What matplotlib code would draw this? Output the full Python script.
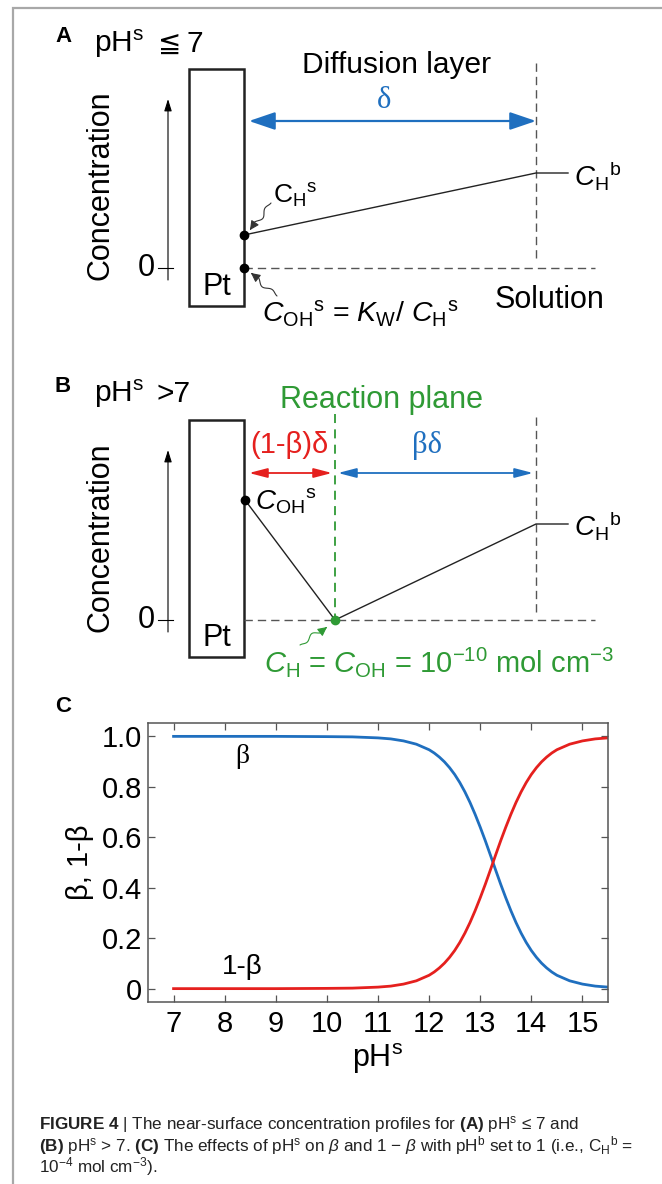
import numpy as np
import matplotlib
matplotlib.use("Agg")
import matplotlib.pyplot as plt
from matplotlib.patches import Rectangle, FancyArrowPatch
from matplotlib.path import Path

plt.rcParams['font.family'] = ['Liberation Sans', 'DejaVu Sans']
plt.rcParams['mathtext.fontset'] = 'custom'
plt.rcParams['mathtext.rm'] = 'Liberation Sans'
plt.rcParams['mathtext.it'] = 'Liberation Sans:italic'
plt.rcParams['mathtext.bf'] = 'Liberation Sans:bold'

BLUE = '#1f6fbf'
RED = '#e5201e'
GREEN = '#2f9a35'
GRAY = '#555555'

# beta and 1-beta versus surface pH (pH_b = 1)
ph_s = [7, 8, 9, 10, 10.5, 11, 11.25, 11.5, 11.75,
        12.0, 12.1, 12.2, 12.3, 12.4, 12.5, 12.6, 12.7, 12.8, 12.9,
        13.0, 13.1, 13.2, 13.3, 13.4, 13.5, 13.6, 13.7, 13.8, 13.9,
        14.0, 14.1, 14.2, 14.3, 14.4, 14.5, 14.75, 15.0, 15.25, 15.5]
one_minus_beta = [0.0, 0.0, 0.0, 0.001, 0.002, 0.006, 0.010, 0.018, 0.031,
                  0.053, 0.066, 0.082, 0.101, 0.124, 0.151, 0.183, 0.220, 0.262, 0.309,
                  0.360, 0.414, 0.471, 0.529, 0.586, 0.640, 0.691, 0.738, 0.780, 0.817,
                  0.849, 0.876, 0.899, 0.918, 0.934, 0.947, 0.969, 0.982, 0.990, 0.994]
beta = [1.0, 1.0, 1.0, 0.999, 0.998, 0.994, 0.990, 0.982, 0.969,
        0.947, 0.934, 0.918, 0.899, 0.876, 0.849, 0.817, 0.780, 0.738, 0.691,
        0.640, 0.586, 0.529, 0.471, 0.414, 0.360, 0.309, 0.262, 0.220, 0.183,
        0.151, 0.124, 0.101, 0.082, 0.066, 0.053, 0.031, 0.018, 0.010, 0.006]
x_ticks = [7, 8, 9, 10, 11, 12, 13, 14, 15]
y_ticks = [0, 0.2, 0.4, 0.6, 0.8, 1.0]
y_ticklabels = ['0', '0.2', '0.4', '0.6', '0.8', '1.0']

W, H = 662, 1184
fig = plt.figure(figsize=(W / 100, H / 100), dpi=100)

# canvas in pixel units for the two schematic panels
ax = fig.add_axes([0, 0, 1, 1])
ax.set_xlim(0, W)
ax.set_ylim(H, 0)
ax.axis('off')

# page frame
ax.plot([13, 13, W], [H, 8, 8], color='#a8a8a8', lw=1.6, solid_joinstyle='miter')

PT_L, PT_R = 189, 244      # electrode edges
X_BULK = 536               # outer edge of the diffusion layer
X_PLANE = 335              # reaction plane in panel B


def squiggle(p0, p1, color, amp=3.0, waves=1.5):
    t = np.linspace(0, 1, 40)
    p0 = np.array(p0, float)
    p1 = np.array(p1, float)
    d = p1 - p0
    n = np.array([-d[1], d[0]]) / np.hypot(*d)
    off = amp * np.sin(2 * np.pi * waves * t) * np.sin(np.pi * t)
    pts = p0 + np.outer(t, d) + np.outer(off, n)
    ax.add_patch(FancyArrowPatch(path=Path(pts), arrowstyle='-|>,head_length=0.6,head_width=0.3',
                                 mutation_scale=9, color=color, lw=0.8))


def double_arrow(x0, x1, y, color, scale, lw, hw):
    ax.add_patch(FancyArrowPatch((x0, y), (x1, y),
                                 arrowstyle=f'<|-|>,head_length=1.0,head_width={hw}',
                                 mutation_scale=scale, color=color, lw=lw,
                                 shrinkA=0, shrinkB=0))


def electrode(top, bottom, zero_y, arrow_top, arrow_bottom, label_y):
    ax.add_patch(Rectangle((PT_L, top), PT_R - PT_L, bottom - top, fill=False,
                           ec='#222222', lw=1.8))
    ax.text((PT_L + PT_R) / 2, label_y, 'Pt', fontsize=22, ha='center', va='center')
    ax.add_patch(FancyArrowPatch((168, arrow_bottom), (168, arrow_top),
                                 arrowstyle='-|>,head_length=0.8,head_width=0.25',
                                 mutation_scale=9, color='black', lw=0.8,
                                 shrinkA=0, shrinkB=0))
    ax.plot([158, 173], [zero_y, zero_y], color='black', lw=0.8)
    ax.text(146, zero_y, '0', fontsize=22, ha='center', va='center')
    ax.text(101, (arrow_top + arrow_bottom) / 2 - 4, 'Concentration',
            fontsize=22, rotation=90, ha='center', va='center')
    ax.plot([PT_R, 595], [zero_y, zero_y], color=GRAY, lw=1.0, dashes=(6, 3.6))


# ---- panel A ----
ax.text(63, 37, 'A', fontsize=16, fontweight='bold', ha='center', va='center')
ax.text(94, 52, r'pH$^{\mathrm{s}}$', fontsize=21.5, va='baseline')
ax.text(158, 53, '≦', family='DejaVu Sans', fontsize=20, va='baseline')
ax.text(187, 52, '7', fontsize=21.5, va='baseline')
ax.text(397, 73, 'Diffusion layer', fontsize=21.5, ha='center', va='baseline')
electrode(69, 306, 268, 99, 280, 287)
ax.plot([X_BULK, X_BULK], [63, 262], color=GRAY, lw=1.0, dashes=(6, 3.6))
double_arrow(PT_R + 5, X_BULK, 121, BLUE, 16, 1.6, 0.34)
ax.text(384, 101, 'δ', family='Liberation Serif', fontsize=22, color=BLUE, ha='center', va='center')
ax.plot([PT_R, X_BULK, 568], [235, 173, 173], color='#222222', lw=1.0)
ax.plot([PT_R, PT_R], [235, 268], 'o', color='black', ms=6)
ax.text(574, 185, r'$C_{\mathrm{H}}{}^{\mathrm{b}}$', fontsize=20, va='baseline')
ax.text(273, 204, r'C$_{\mathrm{H}}{}^{\mathrm{s}}$', fontsize=19, va='baseline')
squiggle((271, 203), (250, 230), '#333333', amp=3)
ax.text(262, 322, r'$C_{\mathrm{OH}}{}^{\mathrm{s}}$ = $K_{\mathrm{W}}$/ $C_{\mathrm{H}}{}^{\mathrm{s}}$',
        fontsize=20.5, va='baseline')
squiggle((277, 296), (251, 273), '#333333', amp=3)
ax.text(495, 308, 'Solution', fontsize=22, va='baseline')

# ---- panel B ----
ax.text(63, 387, 'B', fontsize=16, fontweight='bold', ha='center', va='center')
ax.text(94, 402, r'pH$^{\mathrm{s}}$', fontsize=21.5, va='baseline')
ax.text(156, 402, '>7', fontsize=21.5, va='baseline')
ax.text(381, 408, 'Reaction plane', fontsize=22, color=GREEN, ha='center', va='baseline')
electrode(420, 657, 620, 450, 632, 638)
ax.plot([X_PLANE, X_PLANE], [414, 618], color=GREEN, lw=1.3, dashes=(5, 3.5))
ax.plot([X_BULK, X_BULK], [417, 614], color=GRAY, lw=1.0, dashes=(6, 3.6))
double_arrow(PT_R + 5, X_PLANE - 3, 473, RED, 11, 1.3, 0.26)
double_arrow(X_PLANE + 3, X_BULK - 3, 473, BLUE, 11, 1.3, 0.26)
ax.text(289, 445, '(1-β)δ', fontsize=21, color=RED, ha='center', va='center')
ax.text(427, 445, 'βδ', family='Liberation Serif', fontsize=22, color=BLUE, ha='center', va='center')
ax.plot([PT_R + 1, X_PLANE, X_BULK, 568], [500, 620, 524, 524], color='#222222', lw=1.0)
ax.plot([PT_R + 1], [500], 'o', color='black', ms=6)
ax.plot([X_PLANE], [620], 'o', color=GREEN, ms=6)
ax.text(255, 510, r'$C_{\mathrm{OH}}{}^{\mathrm{s}}$', fontsize=20, va='baseline')
ax.text(574, 536, r'$C_{\mathrm{H}}{}^{\mathrm{b}}$', fontsize=20, va='baseline')
squiggle((300, 645), (327, 627), GREEN, amp=3)
ax.text(264, 672, r'$C_{\mathrm{H}}$ = $C_{\mathrm{OH}}$ = 10$^{-10}$ mol cm$^{-3}$',
        fontsize=21, color=GREEN, va='baseline')

# ---- panel C ----
ax.text(63, 707, 'C', fontsize=16, fontweight='bold', ha='center', va='center')
left, right, top, bottom = 148, 608, 723, 1002
axc = fig.add_axes([left / W, 1 - bottom / H, (right - left) / W, (bottom - top) / H])
axc.plot(ph_s, beta, color=BLUE, lw=2.0)
axc.plot(ph_s, one_minus_beta, color=RED, lw=2.0)
axc.set_xlim(6.5, 15.5)
axc.set_ylim(-0.053, 1.053)
axc.set_xticks(x_ticks)
axc.set_yticks(y_ticks)
axc.set_yticklabels(y_ticklabels)
axc.tick_params(direction='in', top=True, right=True, length=5, width=0.9,
                color=GRAY, labelsize=21)
axc.tick_params(axis='x', pad=6)
axc.tick_params(axis='y', pad=4)
for s in axc.spines.values():
    s.set_color(GRAY)
    s.set_linewidth(1.1)
axc.set_ylabel('β, 1-β', fontsize=21, labelpad=6)
axc.set_xlabel(r'pH$^{\mathrm{s}}$', fontsize=22, labelpad=2)
axc.text(8.35, 0.92, 'β', family='Liberation Serif', fontsize=20, ha='center', va='center')
axc.text(8.35, 0.085, '1-β', fontsize=20, ha='center', va='center')

# ---- caption ----
cap = [
    r'$\mathbf{FIGURE\ 4}$ | The near-surface concentration profiles for $\mathbf{(A)}$ pH$^{\mathrm{s}}$ ≤ 7 and',
    r'$\mathbf{(B)}$ pH$^{\mathrm{s}}$ > 7. $\mathbf{(C)}$ The effects of pH$^{\mathrm{s}}$ on $\beta$ and 1 − $\beta$'
    r' with pH$^{\mathrm{b}}$ set to 1 (i.e., C$_{\mathrm{H}}{}^{\mathrm{b}}$ =',
    r'10$^{-4}$ mol cm$^{-3}$).',
]
for line, y in zip(cap, [1129, 1151, 1172]):
    ax.text(39, y, line, fontsize=12.3, va='baseline', color='#222222')

fig.savefig('out.png', dpi=100)
